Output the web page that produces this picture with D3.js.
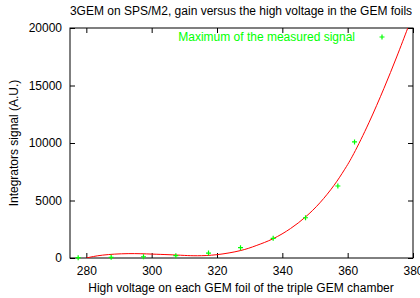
<!DOCTYPE html>
<html>
<head>
<meta charset="utf-8">
<script src="https://cdn.jsdelivr.net/npm/d3@7"></script>
<style>
  body { margin: 0; background: #fff; }
  svg text { font-family: "Liberation Sans", Arial, sans-serif; font-size: 12px; }
</style>
</head>
<body>
<svg id="chart" width="420" height="298"></svg>
<script>
// measured points (voltage per foil, integrator signal)
const voltages = [277.5, 287.6, 297.5, 307.4, 317.4, 327.2, 337.2, 347.1, 357.0, 362.1];
const signals  = [30, 60, 110, 200, 430, 900, 1710, 3500, 6260, 10090];

// fit curve
const fitV = [280, 285, 292.8, 300, 305, 310, 314, 320, 327.1, 332, 337.2, 342.5, 347.1, 351.5, 355.8, 359, 361.9, 366.5, 371.1, 375, 378.3, 380];
const fitS = [0, 250, 380, 340, 290, 225, 195, 290, 640, 1080, 1680, 2560, 3570, 4800, 6310, 7670, 9090, 11760, 14750, 17480, 19920, 21200];

const xTicks = [280, 300, 320, 340, 360, 380];
const yTicks = [0, 5000, 10000, 15000, 20000];

const width = 420, height = 298;
const margin = {top: 28, right: 7, bottom: 40, left: 70};
const xMax = width - margin.left - margin.right;
const yMax = height - margin.top - margin.bottom;

const svg = d3.select("#chart");

const x = d3.scaleLinear().domain([275, 380]).range([0, xMax]);
const y = d3.scaleLinear().domain([0, 20000]).range([yMax, 0]);

const g = svg.append("g")
  .attr("transform", "translate(" + margin.left + "," + margin.top + ")");

// clip for the fit line
g.append("clipPath").attr("id", "clip")
  .append("rect").attr("width", xMax).attr("height", yMax);

// axes: gnuplot style, ticks inward on all four sides
const tl = 5;
g.append("g")
  .attr("transform", "translate(0," + yMax + ")")
  .call(d3.axisBottom(x).tickValues(xTicks).tickSize(-tl).tickPadding(8))
  .call(a => a.select(".domain").remove());
g.append("g")
  .call(d3.axisTop(x).tickValues(xTicks).tickSize(-tl).tickFormat(""))
  .call(a => a.select(".domain").remove());
g.append("g")
  .call(d3.axisLeft(y).tickValues(yTicks).tickSize(-tl).tickPadding(8).tickFormat(d3.format("d")))
  .call(a => a.select(".domain").remove());
g.append("g")
  .attr("transform", "translate(" + xMax + ",0)")
  .call(d3.axisRight(y).tickValues(yTicks).tickSize(-tl).tickFormat(""))
  .call(a => a.select(".domain").remove());

g.selectAll(".tick text").attr("fill", "#000").style("font-size", "12px")
  .style("font-family", "'Liberation Sans', Arial, sans-serif");
g.selectAll(".tick line").attr("stroke", "#000");

// frame
g.append("rect")
  .attr("width", xMax).attr("height", yMax)
  .attr("fill", "none").attr("stroke", "#000").attr("stroke-width", 1);

// fit line
const line = d3.line()
  .x((d, i) => x(fitV[i]))
  .y(d => y(d))
  .curve(d3.curveNatural);

g.append("path")
  .datum(fitS)
  .attr("clip-path", "url(#clip)")
  .attr("d", line)
  .attr("fill", "none")
  .attr("stroke", "#ff0000")
  .attr("stroke-width", 1);

// points
const cross = (cx, cy) => "M" + (cx - 2.5) + "," + cy + "h5M" + cx + "," + (cy - 2.5) + "v5";

g.append("g")
  .selectAll("path")
  .data(signals).enter()
  .append("path")
  .attr("d", (d, i) => cross(x(voltages[i]), y(d)))
  .attr("stroke", "#00ff00")
  .attr("stroke-width", 1.2);

// key
g.append("text")
  .attr("x", 355 - margin.left).attr("y", 41 - margin.top)
  .attr("text-anchor", "end")
  .attr("fill", "#00ff00")
  .text("Maximum of the measured signal");
g.append("path")
  .attr("d", cross(382 - margin.left, 37 - margin.top))
  .attr("stroke", "#00ff00")
  .attr("stroke-width", 1.2);

// titles
svg.append("text")
  .attr("x", 241).attr("y", 15)
  .attr("text-anchor", "middle")
  .text("3GEM on SPS/M2, gain versus the high voltage in the GEM foils");

svg.append("text")
  .attr("x", 241).attr("y", 292)
  .attr("text-anchor", "middle")
  .text("High voltage on each GEM foil of the triple GEM chamber");

svg.append("text")
  .attr("transform", "translate(18," + (margin.top + yMax / 2) + ") rotate(-90)")
  .attr("text-anchor", "middle")
  .text("Integrators signal (A.U.)");
</script>
</body>
</html>
